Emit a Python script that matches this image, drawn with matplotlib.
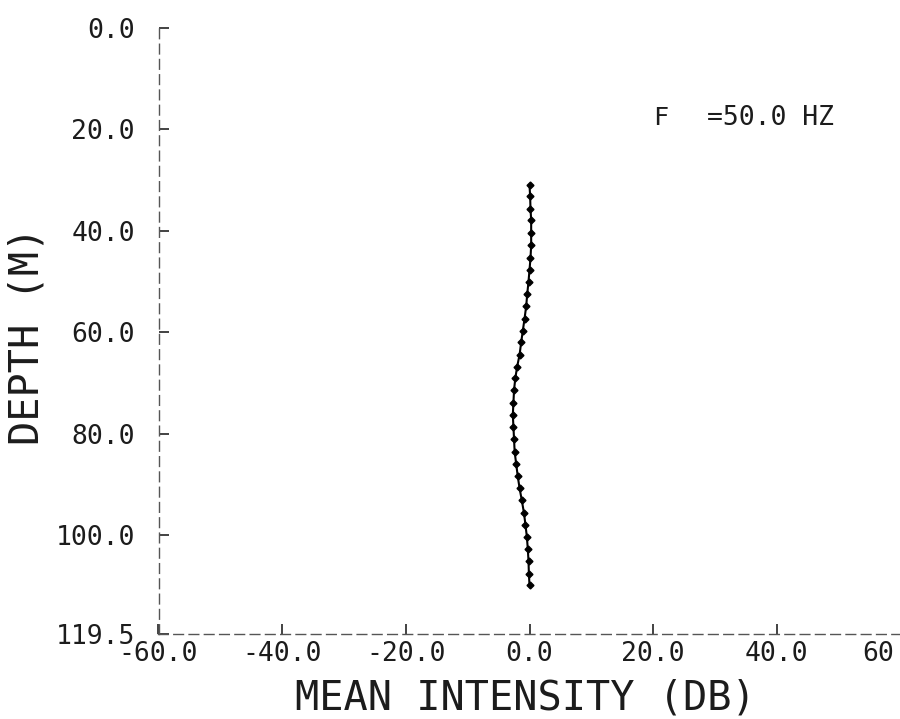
import matplotlib
matplotlib.use("Agg")
import matplotlib.pyplot as plt
from matplotlib.transforms import ScaledTranslation

# Data
depth = [31.0, 33.1, 35.6, 37.9, 40.4, 42.8, 45.4, 47.7, 50.0, 52.5, 54.8, 57.3,
         59.7, 62.0, 64.4, 66.8, 69.1, 71.4, 73.9, 76.3, 78.6, 81.1, 83.6, 86.0,
         88.4, 90.8, 93.1, 95.6, 98.0, 100.3, 102.8, 105.1, 107.6, 109.9]
intensity = [0.0, 0.1, 0.16, 0.27, 0.27, 0.27, 0.16, 0.0, -0.16, -0.37, -0.53, -0.8,
             -1.08, -1.35, -1.6, -2.0, -2.3, -2.5, -2.6, -2.7, -2.6, -2.5, -2.4, -2.15,
             -1.9, -1.6, -1.25, -0.9, -0.65, -0.43, -0.27, -0.16, -0.1, 0.0]

xticks = [-60, -40, -20, 0, 20, 40, 60]
xticklabels = ["-60.0", "-40.0", "-20.0", "0.0", "20.0", "40.0", "60"]
yticks = [0, 20, 40, 60, 80, 100, 119.5]
yticklabels = ["0.0", "20.0", "40.0", "60.0", "80.0", "100.0", "119.5"]

FONT = "DejaVu Sans Mono"
TXT = "#1c1c1c"

fig = plt.figure(figsize=(9, 7.19), dpi=100)
ax = fig.add_axes([158.5 / 900, 1 - 634 / 719, (900.5 - 158.5) / 900, (634 - 28) / 719])

ax.plot(intensity, depth, color="black", lw=1.5, marker="D", ms=3.5,
        markerfacecolor="black", markeredgecolor="black")

ax.set_xlim(-60, 60)
ax.set_ylim(119.5, 0)

for s in ["top", "right"]:
    ax.spines[s].set_visible(False)
for s in ["left", "bottom"]:
    ax.spines[s].set_linestyle((0, (7, 4)))
    ax.spines[s].set_linewidth(1.0)
    ax.spines[s].set_color("#555555")

ax.set_xticks(xticks)
ax.set_xticklabels(xticklabels, fontfamily=FONT, fontsize=19, color=TXT)
ax.set_yticks(yticks)
ax.set_yticklabels(yticklabels, fontfamily=FONT, fontsize=19, color=TXT)
ax.tick_params(axis="x", direction="in", length=7, width=1.2, pad=5, color="#222222")
ax.tick_params(axis="y", direction="in", length=7, width=1.2, pad=17, color="#222222")

# last x tick label sits at the figure edge, as in the reference
last = ax.get_xticklabels()[-1]
last.set_horizontalalignment("right")
last.set_transform(last.get_transform() + ScaledTranslation(-6 / 100, 0, fig.dpi_scale_trans))

ax.set_xlabel("MEAN INTENSITY (DB)", fontfamily=FONT, fontsize=29, va="baseline", color=TXT)
ax.xaxis.set_label_coords(0.494, -0.125)
ax.set_ylabel("DEPTH (M)", fontfamily=FONT, fontsize=29, va="center", ha="center", color=TXT)
ax.yaxis.set_label_coords(-0.177, 0.492)

fig.text(653 / 900, 1 - 125 / 719, "F", fontfamily=FONT, fontsize=18, va="baseline", color=TXT)
fig.text(707 / 900, 1 - 125 / 719, "=50.0 HZ", fontfamily=FONT, fontsize=19, va="baseline", color=TXT)

fig.savefig("out.png", dpi=100)
